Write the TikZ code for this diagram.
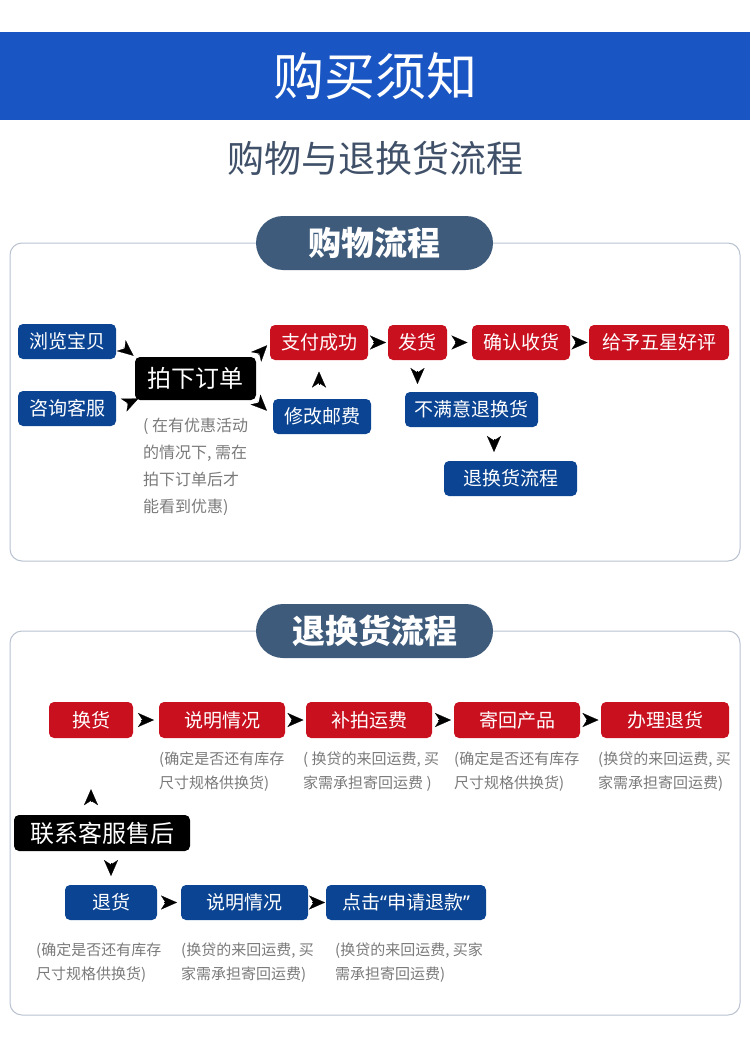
\documentclass[tikz,border=0pt]{standalone}
\usepackage{fontspec}
\setmainfont{Noto Sans CJK SC}
\newfontfamily\quotefont{Noto Sans}
\usetikzlibrary{arrows.meta,calc}

\definecolor{bannerblue}{HTML}{1A56C3}
\definecolor{pillblue}{HTML}{3E5B7B}
\definecolor{nodeblue}{HTML}{0B4492}
\definecolor{nodered}{HTML}{C8101F}
\definecolor{notegray}{HTML}{7A7A7A}
\definecolor{subgray}{HTML}{3F5068}
\definecolor{boxgray}{HTML}{B9C2CF}

% arrowhead only, placed between two anchors
\newcommand{\tipline}[3][0.5]{\draw[tip] ($#2!#1!#3!5pt!#2$) -- ($#2!#1!#3!8pt!#3$);}

\begin{document}
\begin{tikzpicture}[
    x=1pt, y=-1pt,
    bluebox/.style={rectangle, rounded corners=5pt, fill=nodeblue, text=white, inner sep=0pt, minimum height=35pt, font=\fontsize{19}{19}\selectfont},
    redbox/.style={bluebox, fill=nodered},
    blackbox/.style={bluebox, fill=black, font=\fontsize{24}{24}\selectfont},
    pill/.style={rectangle, rounded corners=27pt, fill=pillblue, text=white, minimum width=237pt, minimum height=54pt, inner sep=0pt, font=\fontsize{33}{33}\selectfont\bfseries},
    section/.style={draw=boxgray, line width=1pt, rounded corners=12pt},
    note/.style={anchor=north west, align=left, text=notegray, inner sep=0pt, font=\fontsize{15}{24}\selectfont},
    tip/.style={-{Stealth[length=16pt, width=14pt, inset=4.5pt]}, line width=0.2pt, black}
]
\useasboundingbox (0,0) rectangle (750,1054);

% Banner and title
\node[fill=bannerblue, minimum width=750pt, minimum height=88pt, inner sep=0pt, text=white, font=\fontsize{51}{51}\selectfont] (banner) at (375,76) {购买须知};
\node[text=subgray, font=\fontsize{37}{37}\selectfont] (subtitle) at (375,158) {购物与退换货流程};

% Section frames
\draw[section] (10,243) rectangle (740,561);
\draw[section] (10,631) rectangle (740,1015);
\node[pill] (buyhead) at (374.5,243) {购物流程};
\node[pill] (returnhead) at (374.5,631) {退换货流程};

% Shopping flow
\node[bluebox, minimum width=98pt] (browse) at (67,341.5) {浏览宝贝};
\node[bluebox, minimum width=98pt] (consult) at (67,408.5) {咨询客服};
\node[blackbox, minimum width=121pt, minimum height=43pt] (order) at (195.5,378.5) {拍下订单};
\node[redbox, minimum width=98pt] (pay) at (319,342.5) {支付成功};
\node[bluebox, minimum width=98pt] (postage) at (322,416.5) {修改邮费};
\node[redbox, minimum width=59pt] (ship) at (417.5,342.5) {发货};
\node[redbox, minimum width=98pt] (receive) at (521,342.5) {确认收货};
\node[redbox, minimum width=140pt] (rate) at (659,342.5) {给予五星好评};
\node[bluebox, minimum width=133pt] (unhappy) at (471.5,409.5) {不满意退换货};
\node[bluebox, minimum width=133pt] (returnflow) at (510.5,478.5) {退换货流程};

\node[note, font=\fontsize{16}{27}\selectfont] (ordernote) at (143,418) {( 在有优惠活动\\的情况下, 需在\\拍下订单后才\\能看到优惠)};

% Shopping flow arrows
\tipline[0.6]{(browse.east)}{(order.north west)}
\tipline[0.8]{(consult.east)}{(order.south west)}
\tipline[0.4]{(order.north east)}{(pay.west)}
\tipline[0.3]{(order.south east)}{(postage.west)}
\tipline{(postage.north -| pay.south)}{(pay.south)}
\tipline{(pay.east)}{(ship.west)}
\tipline{(ship.east)}{(receive.west)}
\tipline{(receive.east)}{(rate.west)}
\tipline{(ship.south)}{(ship.south |- unhappy.north)}
\coordinate (unhappydown) at ([xshift=22.5pt]unhappy.south);
\tipline{(unhappydown)}{(unhappydown |- returnflow.north)}

% Exchange flow
\node[redbox, minimum width=84pt, minimum height=36pt] (exchange) at (91,720) {换货};
\node[redbox, minimum width=126pt, minimum height=36pt] (explainA) at (222,720) {说明情况};
\node[redbox, minimum width=126pt, minimum height=36pt] (repay) at (369,720) {补拍运费};
\node[redbox, minimum width=126pt, minimum height=36pt] (sendback) at (517,720) {寄回产品};
\node[redbox, minimum width=128pt, minimum height=36pt] (handle) at (665,720) {办理退货};

\node[note] (noteA) at (159,752) {(确定是否还有库存\\尺寸规格供换货)};
\node[note] (noteB) at (303,752) {( 换贷的来回运费, 买\\家需承担寄回运费 )};
\node[note] (noteC) at (454,752) {(确定是否还有库存\\尺寸规格供换货)};
\node[note] (noteD) at (598,752) {(换贷的来回运费, 买\\家需承担寄回运费)};

% After-sales contact
\node[blackbox, minimum width=176pt, minimum height=36pt] (aftersale) at (102,833) {联系客服售后};

% Refund flow
\node[bluebox, minimum width=92pt] (refund) at (111,902.5) {退货};
\node[bluebox, minimum width=127pt] (explainB) at (244.5,902.5) {说明情况};
\node[bluebox, minimum width=160pt] (apply) at (406,902.5) {点击{\quotefont “}申请退款{\quotefont ”}};

\node[note] (noteE) at (36,943) {(确定是否还有库存\\尺寸规格供换货)};
\node[note] (noteF) at (181,943) {(换贷的来回运费, 买\\家需承担寄回运费)};
\node[note] (noteG) at (335,943) {(换贷的来回运费, 买家\\需承担寄回运费)};

% Exchange and refund arrows
\tipline{(exchange.east)}{(explainA.west)}
\tipline{(explainA.east)}{(repay.west)}
\tipline{(repay.east)}{(sendback.west)}
\tipline{(sendback.east)}{(handle.west)}
\tipline[0.23]{(aftersale.north -| exchange.south)}{(exchange.south)}
\tipline{(aftersale.south -| refund.north)}{(refund.north)}
\tipline{(refund.east)}{(explainB.west)}
\tipline{(explainB.east)}{(apply.west)}

\end{tikzpicture}
\end{document}
